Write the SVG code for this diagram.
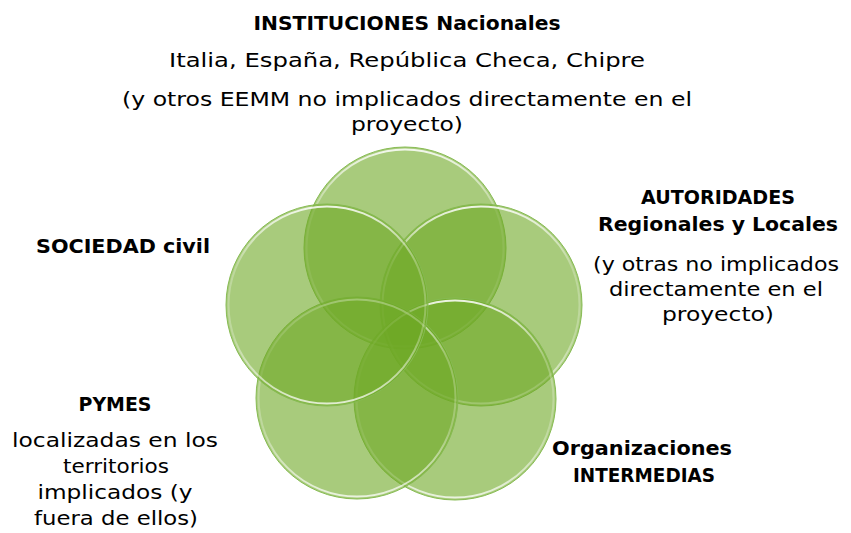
<svg xmlns="http://www.w3.org/2000/svg" width="851" height="533" viewBox="0 0 851 533">
<defs>
<linearGradient id="rim" x1="0" y1="0" x2="0" y2="1">
<stop offset="0" stop-color="#fff" stop-opacity=".85"/>
<stop offset=".3" stop-color="#fff" stop-opacity=".25"/>
<stop offset=".65" stop-color="#fff" stop-opacity=".25"/>
<stop offset="1" stop-color="#fff" stop-opacity=".75"/>
</linearGradient>
</defs>
<style>
.t{font-family:"DejaVu Sans","Liberation Sans",sans-serif;font-size:20px;fill:#000;text-anchor:middle}
.b{font-family:"DejaVu Sans","Liberation Sans",sans-serif;font-size:20px;font-weight:bold;fill:#000;text-anchor:middle}
.c{fill:#6ea825;fill-opacity:.6;stroke:#86bb52;stroke-width:1}
.h{fill:none;stroke:url(#rim);stroke-width:2}
</style>
<rect width="851" height="533" fill="#fff"/>
<g id="connectors"/>
<g id="node-instituciones">
<circle class="c" cx="405" cy="248" r="101"/>
<circle class="h" cx="405" cy="248" r="98.5"/>
<text class="b" x="407" y="30" style="font-size:19px" textLength="307" lengthAdjust="spacingAndGlyphs">INSTITUCIONES Nacionales</text>
<text class="t" x="407" y="67" textLength="476" lengthAdjust="spacingAndGlyphs">Italia, España, República Checa, Chipre</text>
<text class="t" x="407" y="106" textLength="570" lengthAdjust="spacingAndGlyphs">(y otros EEMM no implicados directamente en el</text>
<text class="t" x="407" y="131" textLength="112" lengthAdjust="spacingAndGlyphs">proyecto)</text>
</g>
<g id="node-autoridades">
<circle class="c" cx="481" cy="305" r="101"/>
<circle class="h" cx="481" cy="305" r="98.5"/>
<text class="b" x="718" y="204" textLength="154" lengthAdjust="spacingAndGlyphs">AUTORIDADES</text>
<text class="b" x="718" y="231" textLength="240" lengthAdjust="spacingAndGlyphs">Regionales y Locales</text>
<text class="t" x="716" y="271" textLength="246" lengthAdjust="spacingAndGlyphs">(y otras no implicados</text>
<text class="t" x="716" y="296" textLength="214" lengthAdjust="spacingAndGlyphs">directamente en el</text>
<text class="t" x="718" y="321" textLength="112" lengthAdjust="spacingAndGlyphs">proyecto)</text>
</g>
<g id="node-organizaciones">
<circle class="c" cx="455" cy="399" r="101"/>
<circle class="h" cx="455" cy="399" r="98.5"/>
<text class="b" x="642" y="455" textLength="180" lengthAdjust="spacingAndGlyphs">Organizaciones</text>
<text class="b" x="644" y="482" textLength="142" lengthAdjust="spacingAndGlyphs">INTERMEDIAS</text>
</g>
<g id="node-pymes">
<circle class="c" cx="357" cy="398" r="101"/>
<circle class="h" cx="357" cy="398" r="98.5"/>
<text class="b" x="115" y="411" textLength="73" lengthAdjust="spacingAndGlyphs">PYMES</text>
<text class="t" x="115" y="447" textLength="206" lengthAdjust="spacingAndGlyphs">localizadas en los</text>
<text class="t" x="116" y="473" textLength="106" lengthAdjust="spacingAndGlyphs">territorios</text>
<text class="t" x="115" y="499" textLength="155" lengthAdjust="spacingAndGlyphs">implicados (y</text>
<text class="t" x="116" y="525" textLength="164" lengthAdjust="spacingAndGlyphs">fuera de ellos)</text>
</g>
<g id="node-sociedad">
<circle class="c" cx="327" cy="305" r="101"/>
<circle class="h" cx="327" cy="305" r="98.5"/>
<text class="b" x="123" y="253" textLength="174" lengthAdjust="spacingAndGlyphs">SOCIEDAD civil</text>
</g>
</svg>
